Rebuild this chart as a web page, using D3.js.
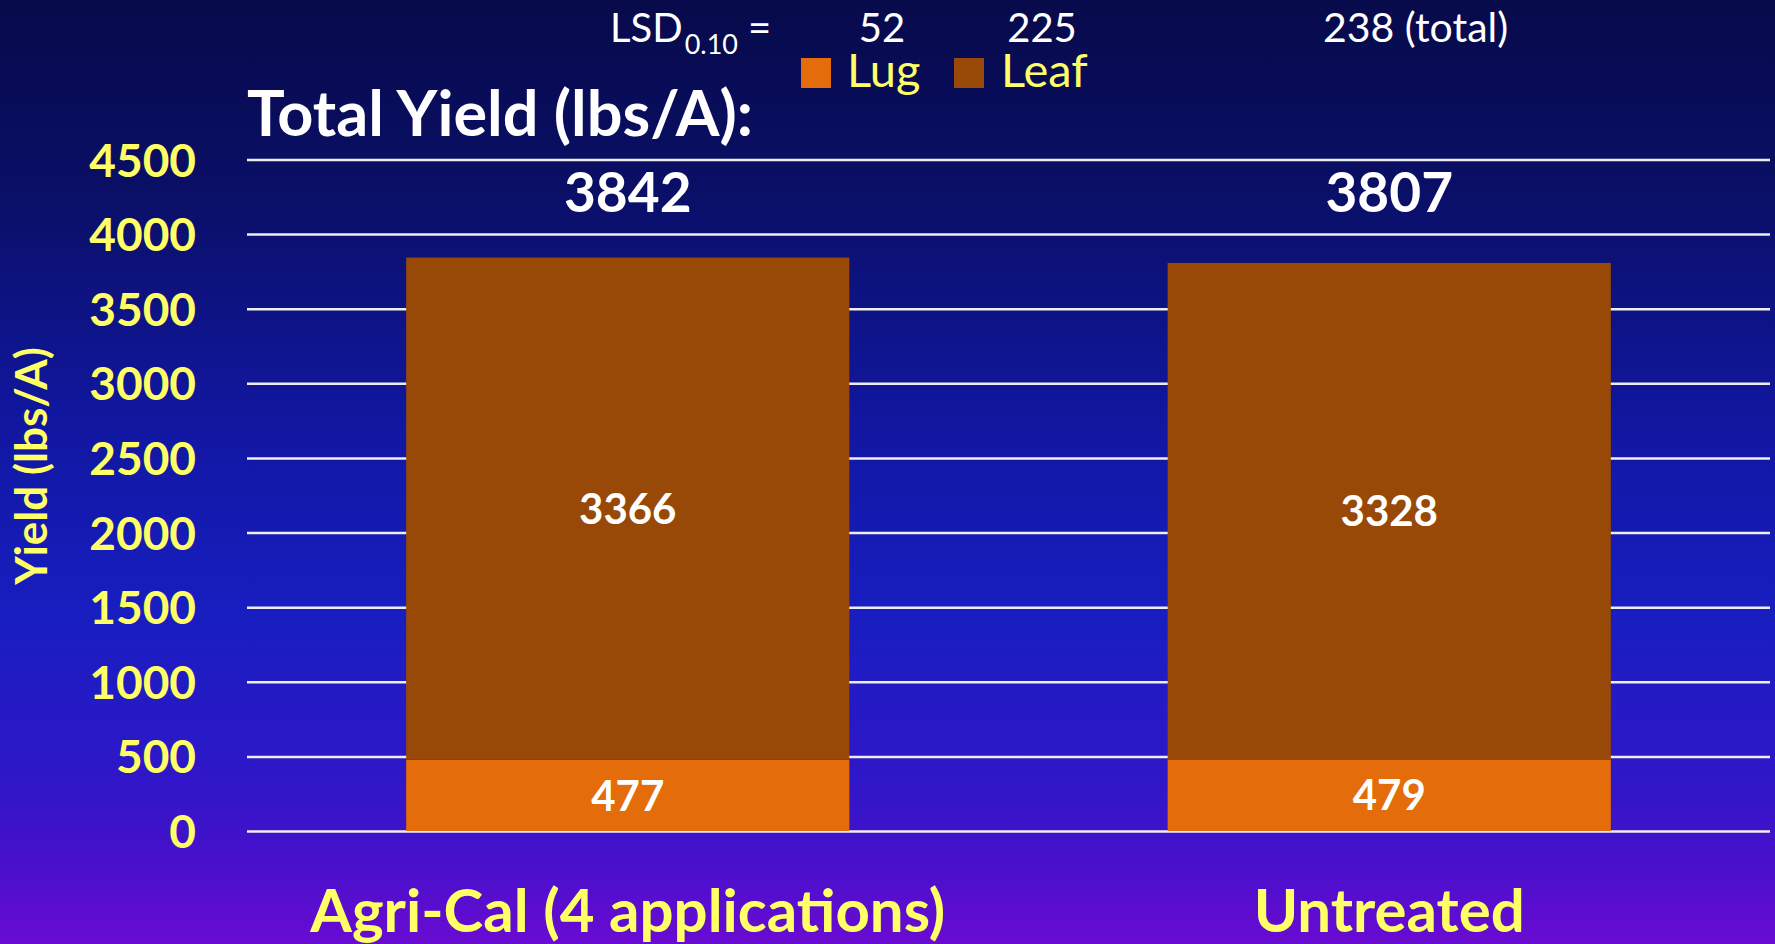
<!DOCTYPE html>
<html>
<head>
<meta charset="utf-8">
<script src="https://cdn.jsdelivr.net/npm/d3@7"></script>
<style>
  html, body { margin: 0; padding: 0; background: #0a0f60; }
  svg { display: block; }
  text { font-family: Lato, "Open Sans", sans-serif; }
</style>
</head>
<body>
<svg id="chart" width="1775" height="944"></svg>
<script>
// ---- data ----
const categories = ["Agri-Cal (4 applications)", "Untreated"];
const series = ["Lug", "Leaf"];
const lugValues = [477, 479];
const leafValues = [3366, 3328];
const totalValues = [3842, 3807];
const yTicks = [0, 500, 1000, 1500, 2000, 2500, 3000, 3500, 4000, 4500];
const lsdLabels = ["52", "225", "238 (total)"];
const colors = { Lug: "#E46C0A", Leaf: "#984807" };

const W = 1775, H = 944;
const svg = d3.select("#chart");

// background gradient
const defs = svg.append("defs");
const grad = defs.append("linearGradient").attr("id", "bg").attr("x1", 0).attr("y1", 0).attr("x2", 0).attr("y2", 1);
[["0%", "#070a4a"], ["20%", "#0a0f66"], ["45%", "#1117a0"], ["65%", "#181ec0"], ["82%", "#2e17c8"], ["92%", "#4a10cc"], ["100%", "#6a0bd2"]]
  .forEach(([o, c]) => grad.append("stop").attr("offset", o).attr("stop-color", c));
svg.append("rect").attr("width", W).attr("height", H).attr("fill", "url(#bg)");

// scales
const plotLeft = 247, plotRight = 1770;
const x = d3.scaleBand().domain(categories).range([plotLeft, plotRight])
  .paddingInner(0.418).paddingOuter(0.209);
const y = d3.scaleLinear().domain([0, 4500]).range([831, 159.5]);

// gridlines + tick labels
const yAxis = d3.axisLeft(y).tickValues(yTicks).tickSize(-(plotRight - plotLeft)).tickFormat(d => d);
const gAxis = svg.append("g").attr("transform", `translate(${plotLeft},0)`).call(yAxis);
gAxis.select(".domain").remove();
gAxis.selectAll(".tick line").attr("stroke", "#eeeeee").attr("stroke-width", 2.5);
gAxis.selectAll(".tick text")
  .attr("x", -51)
  .attr("dy", "0.36em")
  .attr("fill", "#ffff66")
  .attr("font-size", 46)
  .attr("font-weight", 700)
  .attr("font-family", "Lato, sans-serif");

// stacked data
const rows = categories.map((c, i) => ({ cat: c, Lug: lugValues[i], Leaf: leafValues[i], total: totalValues[i] }));
const stack = d3.stack().keys(series)(rows);

const gBars = svg.append("g");
stack.forEach(layer => {
  gBars.selectAll(null).data(layer).enter().append("rect")
    .attr("x", d => x(d.data.cat))
    .attr("width", x.bandwidth())
    .attr("y", d => y(d[1]))
    .attr("height", d => y(d[0]) - y(d[1]))
    .attr("fill", colors[layer.key]);
  gBars.selectAll(null).data(layer).enter().append("text")
    .attr("x", d => x(d.data.cat) + x.bandwidth() / 2)
    .attr("y", d => (y(d[0]) + y(d[1])) / 2)
    .attr("dy", "0.36em")
    .attr("text-anchor", "middle")
    .attr("fill", "#ffffff")
    .attr("font-size", 42)
    .attr("font-weight", 700)
    .text(d => d.data[layer.key]);
});

// totals above
svg.selectAll(".total").data(rows).enter().append("text")
  .attr("class", "total")
  .attr("x", d => x(d.cat) + x.bandwidth() / 2)
  .attr("y", 212)
  .attr("text-anchor", "middle")
  .attr("fill", "#ffffff")
  .attr("font-size", 55)
  .attr("font-weight", 700)
  .text(d => d.total);

// category labels
svg.selectAll(".cat").data(categories).enter().append("text")
  .attr("class", "cat")
  .attr("x", d => x(d) + x.bandwidth() / 2)
  .attr("y", 932)
  .attr("text-anchor", "middle")
  .attr("fill", "#ffff66")
  .attr("font-size", 60)
  .attr("font-weight", 700)
  .text(d => d);

// y axis title
svg.append("text")
  .attr("transform", "translate(47,466) rotate(-90)")
  .attr("text-anchor", "middle")
  .attr("fill", "#ffff66")
  .attr("font-size", 44)
  .attr("font-weight", 700)
  .text("Yield (lbs/A)");

// "Total Yield" heading
svg.append("text")
  .attr("x", 247).attr("y", 136)
  .attr("fill", "#ffffff")
  .attr("font-size", 63)
  .attr("font-weight", 700)
  .text("Total Yield (lbs/A):");

// LSD row
const lsd = svg.append("text").attr("x", 610).attr("y", 42).attr("fill", "#ffffff").attr("font-size", 40);
lsd.append("tspan").text("LSD");
lsd.append("tspan").attr("font-size", 27).attr("dy", 12).attr("dx", 2).text("0.10");
svg.append("text").attr("x", 748).attr("y", 42).attr("fill", "#ffffff").attr("font-size", 40).text("=");
const lsdX = [[882, "middle"], [1042, "middle"], [1323, "start"]];
lsdLabels.forEach((t, i) => {
  svg.append("text").attr("x", lsdX[i][0]).attr("y", 42).attr("text-anchor", lsdX[i][1])
    .attr("fill", "#ffffff").attr("font-size", i === 2 ? 41 : 40).text(t);
});

// legend
const legX = [[801, 847], [954, 1001]];
series.forEach((s, i) => {
  svg.append("rect").attr("x", legX[i][0]).attr("y", 58).attr("width", 30).attr("height", 30).attr("fill", colors[s]);
  svg.append("text").attr("x", legX[i][1]).attr("y", 87).attr("fill", "#ffff66").attr("font-size", 47).text(s);
});
</script>
</body>
</html>
